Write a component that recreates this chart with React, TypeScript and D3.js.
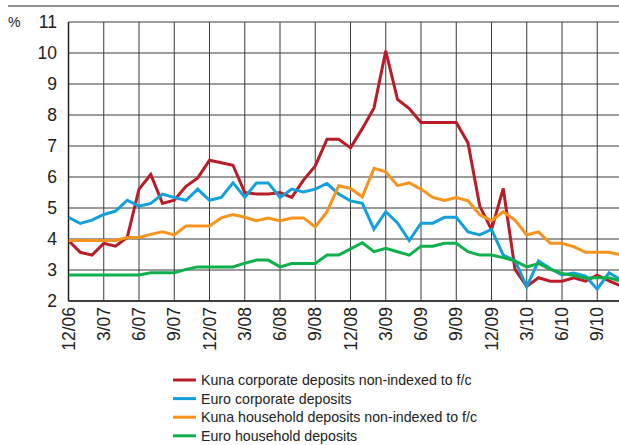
import React from "react";
import * as d3 from "d3";

const months = [
  "12/06","1/07","2/07","3/07","4/07","5/07","6/07","7/07","8/07","9/07","10/07","11/07",
  "12/07","1/08","2/08","3/08","4/08","5/08","6/08","7/08","8/08","9/08","10/08","11/08",
  "12/08","1/09","2/09","3/09","4/09","5/09","6/09","7/09","8/09","9/09","10/09","11/09",
  "12/09","1/10","2/10","3/10","4/10","5/10","6/10","7/10","8/10","9/10","10/10","11/10",
];

const tickLabels = ["12/06","3/07","6/07","9/07","12/07","3/08","6/08","9/08","12/08","3/09","6/09","9/09","12/09","3/10","6/10","9/10"];
const yTicks = [2, 3, 4, 5, 6, 7, 8, 9, 10, 11];

const kunaCorporate = [3.95,3.57,3.48,3.86,3.77,4.05,5.61,6.08,5.15,5.25,5.7,5.97,6.54,6.46,6.38,5.5,5.45,5.45,5.5,5.34,5.9,6.36,7.22,7.22,6.94,7.56,8.23,10.07,8.5,8.21,7.76,7.76,7.76,7.76,7.1,5.06,4.3,5.63,3.02,2.47,2.75,2.64,2.64,2.75,2.64,2.83,2.65,2.49];
const euroCorporate = [4.7,4.5,4.61,4.79,4.9,5.25,5.06,5.15,5.45,5.34,5.25,5.61,5.25,5.34,5.81,5.35,5.81,5.81,5.34,5.61,5.52,5.61,5.79,5.45,5.23,5.15,4.32,4.88,4.52,3.95,4.51,4.51,4.7,4.7,4.23,4.13,4.31,3.48,3.3,2.46,3.29,3.05,2.84,2.9,2.8,2.38,2.91,2.68];
const kunaHousehold = [3.95,3.95,3.95,3.95,3.95,4.05,4.05,4.15,4.23,4.13,4.42,4.42,4.42,4.68,4.79,4.7,4.59,4.68,4.59,4.68,4.68,4.39,4.88,5.72,5.63,5.36,6.28,6.17,5.72,5.81,5.61,5.34,5.24,5.34,5.23,4.78,4.59,4.88,4.61,4.13,4.23,3.86,3.86,3.75,3.57,3.57,3.57,3.49];
const euroHousehold = [2.84,2.84,2.84,2.84,2.84,2.84,2.84,2.91,2.91,2.91,3.02,3.1,3.1,3.1,3.1,3.22,3.32,3.32,3.1,3.21,3.21,3.21,3.48,3.48,3.68,3.88,3.59,3.7,3.59,3.48,3.77,3.77,3.86,3.86,3.59,3.48,3.48,3.4,3.29,3.1,3.21,3.02,2.89,2.82,2.74,2.75,2.75,2.64];

const seriesNames = [
  "Kuna corporate deposits non-indexed to f/c",
  "Euro corporate deposits",
  "Kuna household deposits non-indexed to f/c",
  "Euro household deposits",
];
const seriesValues = [kunaCorporate, euroCorporate, kunaHousehold, euroHousehold];
const seriesColors = ["#b71c27", "#12a0dc", "#f7941d", "#0db04b"];

const W = 619;
const H = 445;
const left = 68.5;
const top = 22;
const bottom = 301;
const right = 619;
const font = "'Liberation Sans Narrow', 'Liberation Sans', Arial, sans-serif";

export default function App() {
  const x = d3.scaleLinear().domain([0, months.length - 1]).range([left, left + (months.length - 1) * 11.75]);
  const y = d3.scaleLinear().domain([2, 11]).range([bottom, top]);
  const line = d3.line<number>().x((_, i) => x(i)).y((v) => y(v));
  const tickIdx = tickLabels.map((t) => months.indexOf(t));

  return (
    <svg width={W} height={H} style={{ position: "absolute", left: 0, top: 0, background: "#fff" }}>
      <defs>
        <clipPath id="plot">
          <rect x={left} y={top - 5} width={right - left} height={bottom - top + 10} />
        </clipPath>
      </defs>
      <line x1={8} x2={W} y1={6} y2={6} stroke="#222" strokeWidth={1.2} />
      <text x={8} y={27} fontFamily={font} fontSize={14} fill="#222">%</text>
      {yTicks.map((t) => (
        <g key={t}>
          <line x1={left} x2={right} y1={y(t)} y2={y(t)} stroke="#3a3a3a" strokeWidth={1} />
          <text x={57} y={y(t) + 6} textAnchor="end" fontFamily={font} fontSize={17.5} fill="#222">{t}</text>
        </g>
      ))}
      {tickIdx.map((i, k) => (
        <g key={k}>
          <line x1={x(i)} x2={x(i)} y1={top} y2={bottom} stroke="#3a3a3a" strokeWidth={1} />
          <text
            transform={`translate(${x(i) + 6},${307}) rotate(-90)`}
            textAnchor="end"
            fontFamily={font}
            fontSize={17.5}
            fill="#222"
          >{tickLabels[k]}</text>
        </g>
      ))}
      <line x1={left} x2={left} y1={top} y2={bottom} stroke="#222" strokeWidth={1.5} />
      <line x1={left} x2={right} y1={bottom} y2={bottom} stroke="#222" strokeWidth={1.5} />
      <g clipPath="url(#plot)">
        {seriesValues.map((vals, s) => (
          <path key={s} d={line(vals) || ""} fill="none" stroke={seriesColors[s]} strokeWidth={3} strokeLinejoin="miter" />
        ))}
      </g>
      {seriesNames.map((name, s) => (
        <g key={name} transform={`translate(0,${380 + s * 18.6})`}>
          <line x1={173} x2={196} y1={0} y2={0} stroke={seriesColors[s]} strokeWidth={3} />
          <text x={201} y={5} fontFamily={font} fontSize={14.2} fill="#222">{name}</text>
        </g>
      ))}
    </svg>
  );
}
